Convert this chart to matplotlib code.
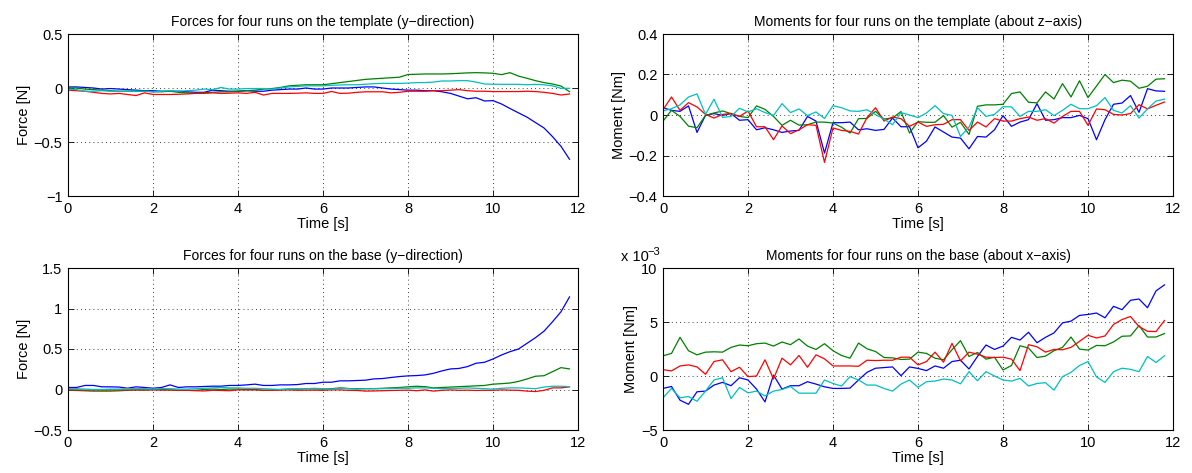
import numpy as np
import matplotlib
matplotlib.use("Agg")
import matplotlib.pyplot as plt

plt.rcParams['font.family'] = ['Liberation Sans', 'DejaVu Sans']

# time axis, 0.2 s sampling
t = np.arange(60) * 0.2

# --- forces on the template (y-direction) [N]
tf_blue = [0.01, 0.01, 0.005, 0.0, -0.01, -0.005, -0.01, -0.015, -0.02, -0.025,
           -0.025, -0.03, -0.03, -0.03, -0.035, -0.04, -0.04, -0.02, -0.025, -0.03,
           -0.03, -0.025, -0.03, -0.03, -0.02, -0.015, -0.01, -0.01, 0.0, -0.01,
           -0.01, 0.0, 0.0, 0.0, 0.005, 0.01, 0.01, 0.0, -0.01, -0.015,
           -0.02, -0.02, -0.025, -0.025, -0.035, -0.05, -0.075, -0.1, -0.09, -0.12,
           -0.117, -0.148, -0.19, -0.23, -0.27, -0.32, -0.37, -0.45, -0.54, -0.66]
tf_green = [0.0, 0.0, -0.01, -0.015, -0.02, -0.025, -0.03, -0.03, -0.03, -0.03,
            -0.035, -0.035, -0.03, -0.04, -0.045, -0.05, -0.045, -0.04, -0.035, -0.035,
            -0.03, -0.025, -0.02, -0.01, -0.005, 0.005, 0.02, 0.025, 0.03, 0.03,
            0.03, 0.04, 0.05, 0.06, 0.07, 0.08, 0.085, 0.09, 0.095, 0.1,
            0.125, 0.127, 0.13, 0.13, 0.13, 0.132, 0.136, 0.14, 0.142, 0.14,
            0.136, 0.124, 0.142, 0.11, 0.09, 0.068, 0.05, 0.037, 0.018, -0.034]
tf_red = [-0.02, -0.025, -0.03, -0.04, -0.05, -0.055, -0.05, -0.06, -0.07, -0.045,
          -0.06, -0.06, -0.06, -0.058, -0.055, -0.05, -0.05, -0.045, -0.05, -0.048,
          -0.045, -0.05, -0.04, -0.065, -0.05, -0.05, -0.05, -0.048, -0.045, -0.05,
          -0.05, -0.032, -0.05, -0.048, -0.04, -0.035, -0.035, -0.035, -0.045, -0.04,
          -0.03, -0.03, -0.03, -0.025, -0.025, -0.02, -0.015, -0.025, -0.03, -0.03,
          -0.033, -0.033, -0.033, -0.033, -0.03, -0.033, -0.04, -0.05, -0.065, -0.055]
tf_cyan = [-0.01, -0.015, -0.03, -0.03, -0.025, -0.03, -0.03, -0.03, -0.03, -0.03,
           -0.035, -0.03, -0.025, -0.03, -0.025, -0.02, -0.01, -0.015, 0.005, -0.01,
           -0.01, -0.005, -0.005, -0.005, -0.01, 0.0, 0.01, 0.015, 0.02, 0.02,
           0.02, 0.025, 0.028, 0.03, 0.03, 0.035, 0.04, 0.043, 0.043, 0.043,
           0.045, 0.05, 0.05, 0.055, 0.065, 0.065, 0.068, 0.068, 0.055, 0.037,
           0.035, 0.034, 0.034, 0.034, 0.03, 0.034, 0.03, 0.02, -0.003, -0.003]

# --- moments on the template (about z-axis) [Nm]
tm_blue = [0.036, 0.023, 0.018, 0.045, -0.086, -0.002, 0.007, -0.002, 0.007, -0.026,
           -0.023, -0.073, -0.063, -0.073, -0.086, -0.079, -0.076, -0.007, -0.03, -0.188,
           -0.038, -0.038, -0.035, -0.073, -0.068, -0.076, -0.071, -0.015, -0.058, -0.058,
           -0.162, -0.129, -0.059, -0.084, -0.109, -0.114, -0.167, -0.106, -0.109, -0.073,
           -0.003, -0.056, -0.035, -0.023, 0.056, -0.026, -0.023, -0.013, -0.013, -0.002,
           -0.018, -0.122, -0.023, 0.053, 0.059, 0.096, 0.013, 0.13, 0.119, 0.117]
tm_green = [-0.03, 0.023, -0.007, -0.055, -0.063, -0.002, 0.01, 0.02, 0.007, -0.007,
            -0.013, 0.045, 0.028, -0.007, -0.051, -0.026, -0.05, -0.048, -0.035, -0.035,
            -0.04, -0.06, -0.089, -0.018, -0.017, 0.018, -0.02, -0.015, 0.017, -0.089,
            -0.033, -0.036, -0.036, -0.003, -0.06, -0.036, -0.096, 0.043, 0.05, 0.05,
            0.053, 0.106, 0.114, 0.063, 0.06, 0.114, 0.079, 0.155, 0.089, 0.169,
            0.086, 0.143, 0.2, 0.16, 0.172, 0.167, 0.132, 0.142, 0.177, 0.179]
tm_red = [0.026, 0.089, 0.023, 0.061, 0.04, 0.003, -0.015, 0.003, 0.007, -0.007,
          0.02, -0.058, -0.058, -0.122, -0.054, -0.092, -0.073, -0.048, -0.051, -0.234,
          -0.064, -0.076, -0.081, -0.094, -0.013, 0.036, -0.03, -0.01, -0.018, -0.056,
          -0.035, -0.056, -0.048, -0.046, -0.023, -0.023, -0.076, -0.035, -0.059, -0.018,
          -0.03, -0.03, -0.018, -0.01, -0.026, -0.018, -0.04, -0.007, 0.018, 0.018,
          -0.051, 0.03, 0.026, 0.003, 0.0, 0.007, 0.051, 0.03, 0.048, 0.064]
tm_cyan = [0.02, 0.031, 0.05, 0.089, 0.104, 0.003, 0.078, -0.012, -0.007, 0.033,
           0.015, 0.031, 0.012, -0.002, 0.056, 0.012, 0.03, -0.003, 0.015, -0.017,
           0.046, 0.036, 0.02, 0.018, 0.026, 0.002, -0.02, -0.048, 0.012, 0.0,
           -0.013, 0.01, 0.046, 0.007, -0.002, -0.106, -0.06, 0.036, -0.007, 0.003,
           0.041, 0.04, -0.007, 0.018, 0.018, 0.026, -0.003, 0.023, 0.053, 0.031,
           0.031, 0.046, 0.086, 0.023, 0.01, 0.046, -0.015, 0.03, 0.069, 0.078]

# --- forces on the base (y-direction) [N]
bf_blue = [0.025, 0.025, 0.05, 0.05, 0.033, 0.033, 0.03, 0.016, 0.033, 0.025,
           0.016, 0.025, 0.057, 0.025, 0.033, 0.033, 0.037, 0.041, 0.041, 0.05,
           0.05, 0.057, 0.066, 0.05, 0.05, 0.057, 0.057, 0.061, 0.074, 0.074,
           0.09, 0.09, 0.107, 0.107, 0.111, 0.115, 0.131, 0.135, 0.148, 0.16,
           0.168, 0.172, 0.18, 0.2, 0.23, 0.254, 0.26, 0.283, 0.324, 0.336,
           0.377, 0.426, 0.467, 0.5, 0.57, 0.64, 0.72, 0.836, 0.96, 1.143]
bf_green = [-0.008, -0.012, -0.016, -0.02, -0.02, -0.02, -0.016, -0.01, -0.005, -0.008,
            0.0, 0.0, -0.005, -0.01, -0.01, -0.01, 0.0, 0.005, 0.0, 0.005,
            0.005, 0.0, 0.0, -0.012, -0.005, 0.0, 0.005, 0.005, 0.01, 0.008,
            0.005, 0.01, 0.02, 0.012, 0.01, 0.01, 0.01, 0.015, 0.02, 0.025,
            0.033, 0.04, 0.035, 0.02, 0.025, 0.03, 0.035, 0.04, 0.045, 0.05,
            0.066, 0.072, 0.08, 0.1, 0.13, 0.164, 0.17, 0.22, 0.27, 0.254]
bf_red = [-0.005, -0.005, -0.008, -0.006, -0.006, -0.005, -0.005, -0.006, -0.005, -0.004,
          -0.005, -0.008, -0.006, -0.01, -0.01, -0.015, -0.018, -0.01, -0.012, -0.015,
          -0.005, -0.005, -0.005, -0.008, -0.01, -0.008, -0.005, -0.01, -0.008, -0.008,
          -0.01, -0.005, -0.005, -0.01, -0.012, -0.02, -0.018, -0.015, -0.012, -0.01,
          -0.008, -0.015, -0.005, -0.02, -0.01, -0.005, -0.01, -0.008, -0.012, -0.01,
          -0.01, -0.005, -0.008, -0.01, -0.02, -0.025, -0.01, 0.02, 0.02, 0.033]
bf_cyan = [0.01, 0.01, 0.005, 0.0, 0.0, 0.005, 0.005, 0.01, 0.01, 0.01,
           0.005, 0.01, 0.01, 0.005, 0.005, 0.01, 0.015, 0.02, 0.025, 0.02,
           0.02, 0.015, 0.015, 0.01, 0.005, 0.0, 0.005, 0.01, 0.01, 0.015,
           0.01, 0.005, 0.015, 0.01, 0.005, 0.01, 0.01, 0.01, 0.012, 0.015,
           0.015, 0.02, 0.02, 0.015, 0.01, 0.015, 0.015, 0.02, 0.015, 0.01,
           0.005, 0.015, 0.02, 0.02, 0.015, 0.01, 0.03, 0.04, 0.04, 0.035]

# --- moments on the base (about x-axis) [Nm x 1e-3]
bm_blue = [-1.15, -0.97, -2.24, -2.62, -1.46, -1.4, -0.84, -0.59, -0.9, -0.16,
           -0.37, -1.21, -2.4, 0.09, -1.21, -0.9, -0.9, -0.53, -0.75, -1.0,
           -1.15, -1.15, -1.12, -0.37, 0.34, 0.72, 0.78, 0.84, 0.03, 0.84,
           0.7, 0.5, 0.93, 0.72, 1.34, 1.46, 0.65, 1.81, 2.87, 2.46,
           2.77, 3.58, 3.33, 4.05, 3.08, 3.58, 3.99, 4.92, 5.08, 5.61,
           5.7, 5.83, 5.39, 6.45, 6.14, 7.01, 7.13, 6.32, 7.88, 8.44]
bm_green = [1.87, 2.09, 3.58, 2.34, 1.96, 2.21, 2.24, 2.21, 2.65, 2.87,
            2.8, 2.99, 3.05, 2.77, 3.15, 2.9, 3.43, 2.77, 2.46, 2.99,
            2.34, 1.9, 1.65, 3.05, 2.52, 2.27, 1.71, 1.68, 1.53, 1.56,
            2.21, 2.09, 1.65, 1.5, 2.43, 3.27, 1.81, 2.18, 1.56, 1.74,
            0.56, 0.97, 2.8, 2.59, 1.71, 1.84, 2.34, 2.65, 3.61, 2.49,
            2.4, 2.83, 2.8, 3.15, 3.68, 3.71, 4.67, 3.61, 3.61, 3.93]
bm_red = [0.59, 0.47, 0.93, 1.03, 0.84, 0.16, 1.34, 1.5, 0.4, 0.81,
          -0.06, 0.0, 1.5, -0.28, 1.65, 1.03, 1.9, 0.81, 1.96, 1.59,
          0.93, 0.93, 0.93, 0.9, 1.46, 1.43, 1.46, 1.46, 1.74, 1.74,
          1.03, 1.34, 2.21, 1.28, 3.02, 1.4, 2.21, 2.02, 1.74, 1.71,
          1.74, 1.56, 0.5, 2.9, 2.71, 2.21, 2.46, 2.43, 2.65, 3.21,
          3.77, 3.52, 3.71, 4.77, 5.23, 5.51, 4.58, 4.14, 4.11, 5.14]
bm_cyan = [-2.02, -1.15, -2.02, -1.9, -2.34, -1.4, -0.37, -0.16, -2.09, -1.06,
           -1.56, -1.4, -1.84, -1.4, -1.25, -0.97, -1.59, -1.59, -1.59, -0.37,
           -0.69, -0.93, -0.06, -0.37, -0.84, -0.84, -1.15, -1.4, -0.75, -0.37,
           -1.05, -0.53, -0.47, -0.28, -0.37, -0.72, 0.4, -0.44, 0.4, 0.0,
           -0.37, -0.47, -0.22, -0.93, -0.69, -0.62, -1.31, -0.06, 0.34, 0.97,
           1.34, -0.09, -0.59, 0.4, 0.72, 0.62, 0.4, 1.81, 1.25, 1.87]

colors = ['#0000ff', '#008000', '#ff0000', '#00bfbf']

panels = [
    ("Forces for four runs on the template (y\u2212direction)", "Force [N]",
     [tf_blue, tf_green, tf_red, tf_cyan], (-1, 0.5), [-1, -0.5, 0, 0.5], ['\u22121', '\u22120.5', '0', '0.5']),
    ("Moments for four runs on the template (about z\u2212axis)", "Moment [Nm]",
     [tm_blue, tm_green, tm_red, tm_cyan], (-0.4, 0.4), [-0.4, -0.2, 0, 0.2, 0.4],
     ['\u22120.4', '\u22120.2', '0', '0.2', '0.4']),
    ("Forces for four runs on the base (y\u2212direction)", "Force [N]",
     [bf_blue, bf_green, bf_red, bf_cyan], (-0.5, 1.5), [-0.5, 0, 0.5, 1, 1.5],
     ['\u22120.5', '0', '0.5', '1', '1.5']),
    ("Moments for four runs on the base (about x\u2212axis)", "Moment [Nm]",
     [bm_blue, bm_green, bm_red, bm_cyan], (-5, 10), [-5, 0, 5, 10], ['\u22125', '0', '5', '10']),
]

W, H = 1192, 473
fig = plt.figure(figsize=(W / 100, H / 100), dpi=100)

# axes boxes in pixels: left, top, width, height
boxes = [(68, 34, 510, 162), (663, 34, 510, 162), (68, 268, 510, 162), (663, 268, 510, 162)]

for (title, ylab, series, ylim, yt, ytl), (l, tp, w, h) in zip(panels, boxes):
    ax = fig.add_axes([l / W, 1 - (tp + h) / H, w / W, h / H])
    for s, c in zip(series, colors):
        ax.plot(t, s, color=c, lw=0.9)
    ax.set_xlim(0, 12)
    ax.set_ylim(*ylim)
    ax.set_xticks([0, 2, 4, 6, 8, 10, 12])
    ax.set_yticks(yt)
    ax.set_yticklabels(ytl)
    ax.grid(True, linestyle=(0, (1, 4)), color='black', lw=0.6)
    ax.tick_params(direction='in', top=True, right=True, length=4, width=0.6, labelsize=10.5, pad=4)
    for sp in ax.spines.values():
        sp.set_linewidth(0.8)
    ax.set_title(title, fontsize=10, pad=6)
    ax.set_ylabel(ylab, fontsize=10.5, labelpad=2)
    ax.set_xlabel("Time [s]", fontsize=10.5, labelpad=1)

# exponent label of the last panel, above the top tick label
fig.text(621 / W, 1 - 261 / H, "x 10", fontsize=10.5, ha='left', va='baseline')
fig.text(647 / W, 1 - 255 / H, "\u22123", fontsize=8, ha='left', va='baseline')

fig.savefig("out.png", dpi=100)
